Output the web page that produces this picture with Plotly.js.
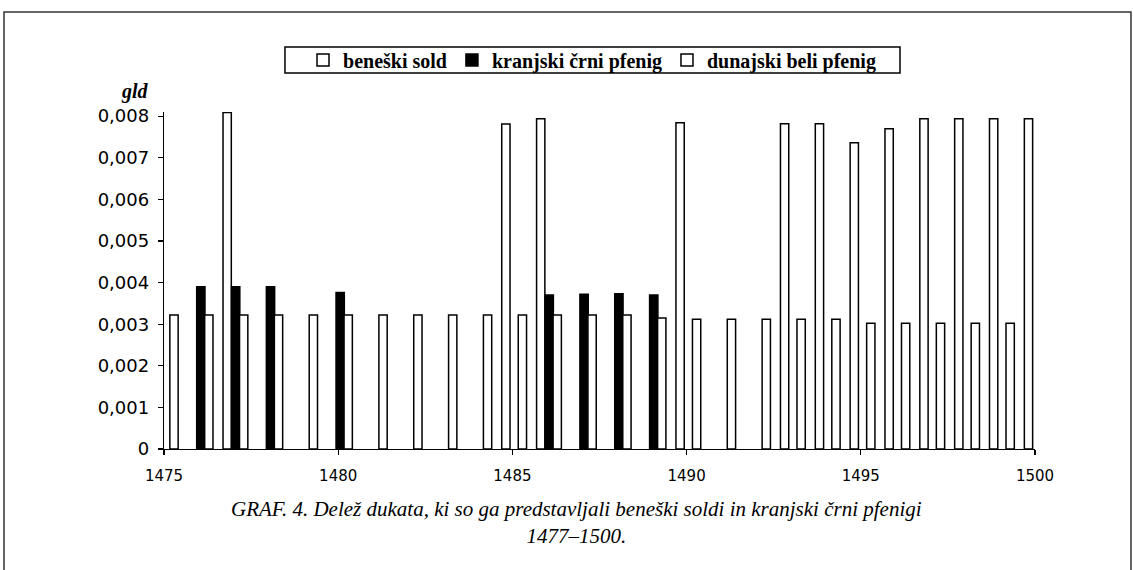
<!DOCTYPE html>
<html>
<head>
<meta charset="utf-8">
<script src="https://cdn.plot.ly/plotly-3.0.1.min.js"></script>
<style>html,body{margin:0;padding:0;background:#fff;}#chart{width:1133px;height:570px;}</style>
</head>
<body>
<div id="chart"></div>
<script>
const years = [1475,1476,1477,1478,1479,1480,1481,1482,1483,1484,1485,1486,1487,1488,1489,1490,1491,1492,1493,1494,1495,1496,1497,1498,1499,1500];
const beneskiSold = [null,null,0.00809,null,null,null,null,null,null,null,0.00781,0.00794,null,null,null,0.00784,null,null,0.00782,0.00782,0.00736,0.00770,0.00794,0.00794,0.00794,0.00794];
const kranjskiCrni = [null,0.0039,0.0039,0.0039,null,0.00376,null,null,null,null,null,0.0037,0.00372,0.00373,0.0037,null,null,null,null,null,null,null,null,null,null,null];
const dunajskiBeli = [0.00322,0.00322,0.00322,0.00322,0.00322,0.00322,0.00322,0.00322,0.00322,0.00322,0.00322,0.00322,0.00322,0.00322,0.00315,0.00312,0.00312,0.00312,0.00312,0.00312,0.00302,0.00302,0.00302,0.00302,0.00302,null];
const seriesNames = ['beneški sold','kranjski črni pfenig','dunajski beli pfenig'];
const yTickVals = [0,0.001,0.002,0.003,0.004,0.005,0.006,0.007,0.008];
const yTickText = ['0','0,001','0,002','0,003','0,004','0,005','0,006','0,007','0,008'];
const xTickVals = [1475,1480,1485,1490,1495,1500];
const yAxisTitle = 'gld';
const captionLines = ['GRAF. 4. Delež dukata, ki so ga predstavljali beneški soldi in kranjski črni pfenigi', '1477–1500.'];

const W = 0.238;
const mk = (y, name, fill, off) => ({
  type: 'bar', x: years, y: y, name: name,
  width: W, offset: off,
  marker: {color: fill, line: {color: '#000', width: 1.5}},
  hoverinfo: 'x+y'
});
const data = [
  mk(beneskiSold, seriesNames[0], '#ffffff', -0.306),
  mk(kranjskiCrni, seriesNames[1], '#000000', -0.062),
  mk(dunajskiBeli, seriesNames[2], '#ffffff', 0.168)
];

const layout = {
  width: 1133, height: 570,
  margin: {l: 164, r: 98, t: 112, b: 121, pad: 0},
  paper_bgcolor: '#fff', plot_bgcolor: '#fff',
  barmode: 'overlay',
  showlegend: true,
  legend: {
    orientation: 'h', x: 0.4914, xanchor: 'center', y: 1.1543, yanchor: 'middle',
    borderwidth: 0, bgcolor: 'rgba(0,0,0,0)',
    font: {family: 'Liberation Serif', size: 20, color: '#000', weight: 'bold'},
    itemwidth: 30, traceorder: 'normal', tracegroupgap: 0
  },
  xaxis: {
    range: [1475, 1500], tickvals: xTickVals, ticktext: xTickVals.map(String),
    showline: true, linecolor: '#000', linewidth: 1.2,
    ticks: 'outside', ticklen: 5, tickcolor: '#000', tickwidth: 1.2,
    ticklabelstandoff: 8,
    showgrid: false, zeroline: false,
    tickfont: {family: 'DejaVu Sans', size: 15, color: '#000'}
  },
  yaxis: {
    range: [0, 0.0081], tickvals: yTickVals, ticktext: yTickText,
    showline: true, linecolor: '#000', linewidth: 1.2,
    ticks: 'outside', ticklen: 5, tickcolor: '#000', tickwidth: 1.2,
    ticklabelstandoff: 5,
    showgrid: false, zeroline: false,
    tickfont: {family: 'DejaVu Sans', size: 18, color: '#000'}
  },
  annotations: [
    {text: '<b><i>' + yAxisTitle + '</i></b>', xref: 'paper', yref: 'paper', x: -0.0333, y: 1.0623,
     xanchor: 'center', yanchor: 'middle', showarrow: false,
     font: {family: 'Liberation Serif', size: 20, color: '#000'}},
    {text: '<i>' + captionLines.join('<br>') + '</i>', xref: 'paper', yref: 'paper', x: 0.474, y: 1 - (522 - 112) / 337,
     xanchor: 'center', yanchor: 'middle', showarrow: false, align: 'center',
     font: {family: 'Liberation Serif', size: 21, color: '#000'}}
  ],
  shapes: [
    {type: 'rect', xref: 'paper', yref: 'paper', x0: -0.1837, x1: 1.1102, y0: -0.40, y1: 1.2967,
     line: {color: '#333', width: 1.5}, layer: 'below'},
    {type: 'rect', xref: 'paper', yref: 'paper', x0: 0.1389, x1: 0.845, y0: 1.1157, y1: 1.1929,
     line: {color: '#000', width: 1.5}, fillcolor: 'rgba(0,0,0,0)', layer: 'above'}
  ]
};

Plotly.newPlot('chart', data, layout, {displayModeBar: false, staticPlot: true});
</script>
</body>
</html>
